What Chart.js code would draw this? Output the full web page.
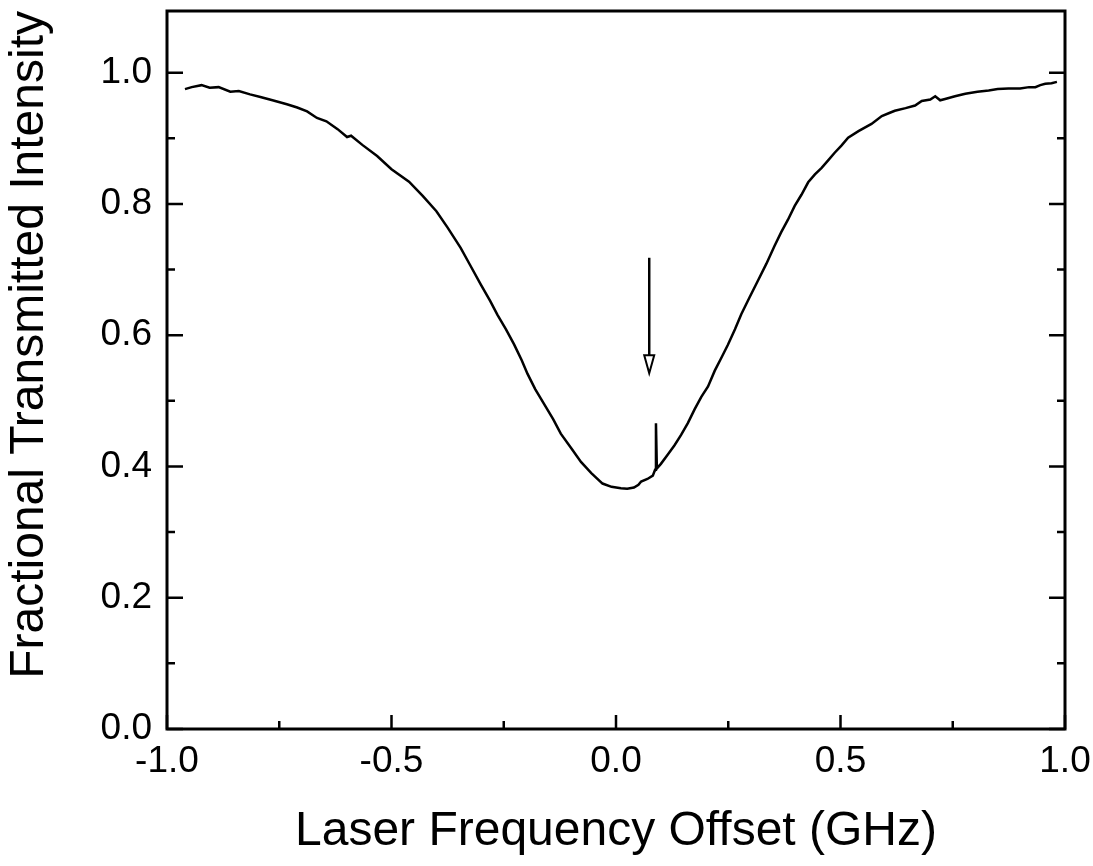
<!DOCTYPE html>
<html>
<head>
<meta charset="utf-8">
<script src="https://cdn.jsdelivr.net/npm/chart.js@4.4.1/dist/chart.umd.min.js"></script>
<style>
  body { margin: 0; background: #fff; }
  #wrap { width: 1093px; height: 866px; }
</style>
</head>
<body>
<div id="wrap"><canvas id="chart"></canvas></div>
<script>
// laser frequency offset (GHz) and fractional transmitted intensity
const freqOffset = [
  -0.960, -0.945, -0.923, -0.905, -0.885, -0.859, -0.840, -0.815, -0.792, -0.765,
  -0.733, -0.710, -0.688, -0.666, -0.645, -0.620, -0.599, -0.590, -0.565, -0.532,
  -0.500, -0.461, -0.430, -0.400, -0.375, -0.346, -0.325, -0.301, -0.280, -0.264,
  -0.245, -0.227, -0.210, -0.197, -0.180, -0.160, -0.140, -0.123, -0.100, -0.078,
  -0.055, -0.030, -0.010, 0.011, 0.025, 0.040, 0.050, 0.056, 0.070, 0.082,
  0.087, 0.089, 0.091, 0.100, 0.115, 0.130, 0.145, 0.160, 0.175, 0.190,
  0.205, 0.220, 0.235, 0.249, 0.265, 0.279, 0.297, 0.316, 0.335, 0.353,
  0.368, 0.383, 0.398, 0.413, 0.428, 0.443, 0.458, 0.472, 0.487, 0.502,
  0.517, 0.540, 0.569, 0.592, 0.610, 0.621, 0.645, 0.666, 0.681, 0.700,
  0.711, 0.722, 0.733, 0.755, 0.778, 0.805, 0.830, 0.850, 0.874, 0.900,
  0.920, 0.934, 0.945, 0.956, 0.970, 0.982
];
const transmission = [
  0.975, 0.978, 0.981, 0.977, 0.978, 0.971, 0.972, 0.967, 0.963, 0.958,
  0.952, 0.947, 0.941, 0.931, 0.926, 0.914, 0.902, 0.904, 0.890, 0.873,
  0.853, 0.834, 0.812, 0.789, 0.764, 0.733, 0.707, 0.677, 0.652, 0.631,
  0.609, 0.586, 0.562, 0.541, 0.518, 0.495, 0.472, 0.450, 0.428, 0.407,
  0.390, 0.374, 0.369, 0.367, 0.366, 0.368, 0.372, 0.377, 0.381, 0.386,
  0.395, 0.466, 0.397, 0.404, 0.418, 0.432, 0.448, 0.466, 0.487, 0.506,
  0.522, 0.546, 0.566, 0.585, 0.609, 0.632, 0.657, 0.683, 0.709, 0.736,
  0.757, 0.776, 0.797, 0.814, 0.833, 0.845, 0.855, 0.866, 0.878, 0.889,
  0.901, 0.911, 0.922, 0.934, 0.939, 0.942, 0.946, 0.950, 0.957, 0.959,
  0.964, 0.958, 0.960, 0.964, 0.968, 0.971, 0.973, 0.975, 0.976, 0.976,
  0.978, 0.978, 0.981, 0.983, 0.984, 0.986
];

const xTicks = [-1.0, -0.5, 0.0, 0.5, 1.0];
const xMinorTicks = [-0.75, -0.25, 0.25, 0.75];
const yTicks = [0.0, 0.2, 0.4, 0.6, 0.8, 1.0];
const yMinorTicks = [0.1, 0.3, 0.5, 0.7, 0.9];

// arrow pointing at the narrow peak: x, tail y, tip y
const arrowX = 0.074;
const arrowTail = 0.718;
const arrowTip = 0.542;

const fontFamily = "'Liberation Sans', Arial, Helvetica, sans-serif";

// frame, inward tick marks and the arrow
const framePlugin = {
  id: 'frame',
  afterDatasetsDraw(chart) {
    const { ctx, chartArea: a, scales: { x, y } } = chart;
    ctx.save();
    ctx.strokeStyle = '#000';
    ctx.lineWidth = 3;
    ctx.strokeRect(a.left, a.top, a.right - a.left, a.bottom - a.top);

    ctx.lineWidth = 2.5;
    ctx.beginPath();
    const yMark = (v, len) => {
      const py = y.getPixelForValue(v);
      ctx.moveTo(a.left, py); ctx.lineTo(a.left + len, py);
      ctx.moveTo(a.right, py); ctx.lineTo(a.right - len, py);
    };
    yTicks.forEach(v => yMark(v, 16));
    yMinorTicks.forEach(v => yMark(v, 8));
    xTicks.forEach(v => {
      const px = x.getPixelForValue(v);
      ctx.moveTo(px, a.bottom); ctx.lineTo(px, a.bottom - 14);
    });
    xMinorTicks.forEach(v => {
      const px = x.getPixelForValue(v);
      ctx.moveTo(px, a.bottom); ctx.lineTo(px, a.bottom - 8);
    });
    ctx.stroke();

    // arrow
    const ax = x.getPixelForValue(arrowX);
    const top = y.getPixelForValue(arrowTail);
    const tip = y.getPixelForValue(arrowTip);
    const headLen = 18, headHalf = 5;
    ctx.lineWidth = 2.5;
    ctx.beginPath();
    ctx.moveTo(ax, top);
    ctx.lineTo(ax, tip - headLen);
    ctx.stroke();
    ctx.lineWidth = 2;
    ctx.beginPath();
    ctx.moveTo(ax - headHalf, tip - headLen);
    ctx.lineTo(ax + headHalf, tip - headLen);
    ctx.lineTo(ax, tip);
    ctx.closePath();
    ctx.fillStyle = '#fff';
    ctx.fill();
    ctx.stroke();
    ctx.restore();
  }
};

new Chart(document.getElementById('chart'), {
  type: 'line',
  data: {
    datasets: [{
      data: freqOffset.map((f, i) => ({ x: f, y: transmission[i] })),
      borderColor: '#000',
      borderWidth: 2.5,
      pointRadius: 0,
      tension: 0,
      fill: false,
    }],
  },
  options: {
    responsive: true,
    maintainAspectRatio: false,
    animation: false,
    layout: { padding: { top: 11, right: 28, left: 0, bottom: 0 } },
    plugins: { legend: { display: false }, tooltip: { enabled: false } },
    scales: {
      x: {
        type: 'linear',
        min: -1,
        max: 1,
        afterBuildTicks: s => { s.ticks = xTicks.map(v => ({ value: v })); },
        afterFit: s => { s.height = 137; s.paddingLeft = 0; s.paddingRight = 0; },
        grid: { display: false, drawTicks: false },
        border: { display: false },
        ticks: {
          callback: v => v.toFixed(1),
          color: '#000',
          padding: 11,
          maxRotation: 0,
          autoSkip: false,
          font: { family: fontFamily, size: 37 },
        },
        title: {
          display: true,
          text: 'Laser Frequency Offset (GHz)',
          color: '#000',
          font: { family: fontFamily, size: 48, lineHeight: 1 },
          padding: { top: 0, bottom: 10 },
        },
      },
      y: {
        min: 0,
        max: 1.094,
        afterBuildTicks: s => { s.ticks = yTicks.map(v => ({ value: v })); },
        afterFit: s => { s.width = 167; s.paddingTop = 0; s.paddingBottom = 0; },
        grid: { display: false, drawTicks: false },
        border: { display: false },
        ticks: {
          callback: v => v.toFixed(1),
          color: '#000',
          padding: 15,
          font: { family: fontFamily, size: 37 },
        },
        title: {
          display: true,
          text: 'Fractional Transmitted Intensity',
          align: 'end',
          color: '#000',
          font: { family: fontFamily, size: 48, lineHeight: 1 },
          padding: { top: 6, bottom: 0 },
        },
      },
    },
  },
  plugins: [framePlugin],
});
</script>
</body>
</html>
